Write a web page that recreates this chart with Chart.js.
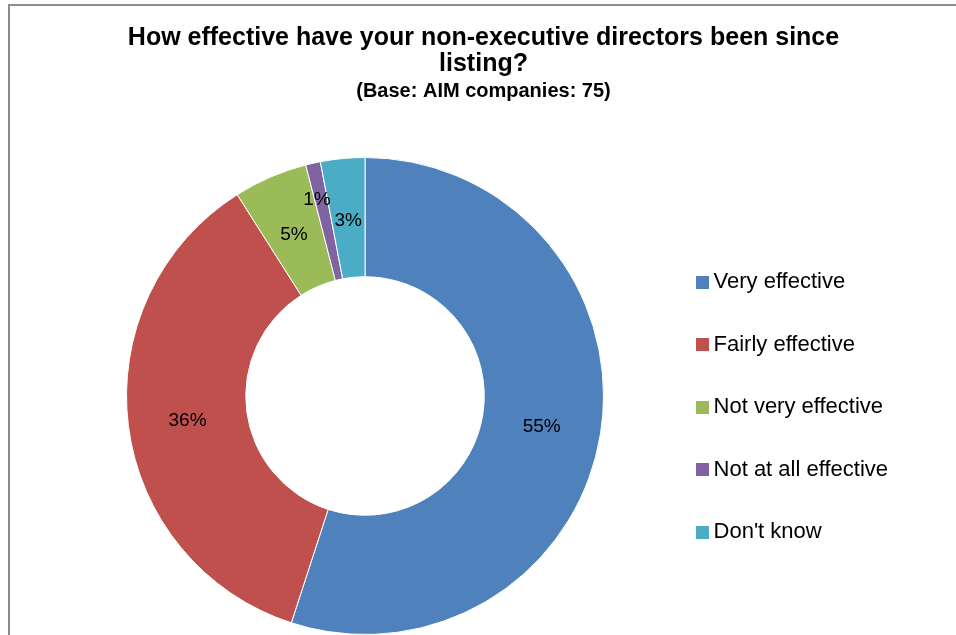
<!DOCTYPE html>
<html>
<head>
<meta charset="utf-8">
<script src="https://cdn.jsdelivr.net/npm/chart.js@4.4.1/dist/chart.umd.min.js"></script>
<style>
  html, body { margin: 0; padding: 0; background: #fff; overflow: hidden; }
  #frame {
    position: absolute; left: 8px; top: 4px; width: 1000px; height: 700px;
    border-left: 2px solid #8c8c8c; border-top: 2px solid #8c8c8c;
  }
  #chart { position: absolute; left: 0; top: 0; }
</style>
</head>
<body>
<div id="frame"></div>
<canvas id="chart" width="956" height="635"></canvas>
<script>
const categories = ["Very effective", "Fairly effective", "Not very effective", "Not at all effective", "Don't know"];
const shares = [55, 36, 5, 1, 3];
const sliceColors = ["#4F81BD", "#C0504D", "#9BBB59", "#8064A2", "#4BACC6"];
const titleLines = ["How effective have your non-executive directors been since", "listing?"];
const baseNote = "(Base: AIM companies: 75)";

const FONT = "'Liberation Sans', Arial, sans-serif";

// small square swatch used as the legend marker (keeps the text close to the box)
function swatch(color, size) {
  const c = document.createElement("canvas");
  c.width = size;
  c.height = size;
  const g = c.getContext("2d");
  g.fillStyle = color;
  g.fillRect(0, 0, size, size);
  return c;
}
const swatches = sliceColors.map(c => swatch(c, 13));

// writes "NN%" in the middle of each ring segment
const sliceLabels = {
  id: "sliceLabels",
  afterDatasetsDraw(chart, args, opts) {
    const ctx = chart.ctx;
    const meta = chart.getDatasetMeta(0);
    ctx.save();
    ctx.font = opts.font;
    ctx.fillStyle = "#000";
    ctx.textAlign = "center";
    ctx.textBaseline = "middle";
    meta.data.forEach((arc, i) => {
      const p = arc.tooltipPosition();
      const shift = (opts.shift && opts.shift[i]) || [0, 0];
      ctx.fillText(chart.data.datasets[0].data[i] + "%", p.x + shift[0], p.y + opts.dy + shift[1]);
    });
    ctx.restore();
  }
};

new Chart(document.getElementById("chart"), {
  type: "doughnut",
  data: {
    labels: categories,
    datasets: [{
      data: shares,
      backgroundColor: sliceColors,
      borderColor: "#fff",
      borderWidth: 1,
      hoverOffset: 0
    }]
  },
  options: {
    responsive: false,
    animation: false,
    cutout: "50%",
    layout: { padding: { left: 69, right: 58, top: 0, bottom: 0 } },
    plugins: {
      title: {
        display: true,
        text: titleLines,
        color: "#000",
        font: { family: FONT, size: 25, weight: "bold", lineHeight: 1.05 },
        padding: { top: 25, bottom: 3.5 }
      },
      subtitle: {
        display: true,
        text: baseNote,
        color: "#000",
        font: { family: FONT, size: 20, weight: "bold", lineHeight: 1.0 },
        padding: { top: 0, bottom: 56 }
      },
      legend: {
        position: "right",
        fullSize: false,
        title: { display: true, text: "", font: { size: 15, lineHeight: 1.5 }, padding: 0 },
        labels: {
          usePointStyle: true,
          boxWidth: 1,
          boxHeight: 13,
          padding: 40.5,
          color: "#000",
          font: { family: FONT, size: 22 },
          generateLabels(chart) {
            const items = Chart.controllers.doughnut.overrides.plugins.legend.labels.generateLabels(chart);
            items.forEach((it, i) => { it.pointStyle = swatches[i]; });
            return items;
          }
        }
      },
      tooltip: { enabled: false },
      sliceLabels: {
        font: "19px " + FONT,
        dy: 2.5,
        shift: { 3: [-9, -24] }
      }
    }
  },
  plugins: [sliceLabels]
});
</script>
</body>
</html>
